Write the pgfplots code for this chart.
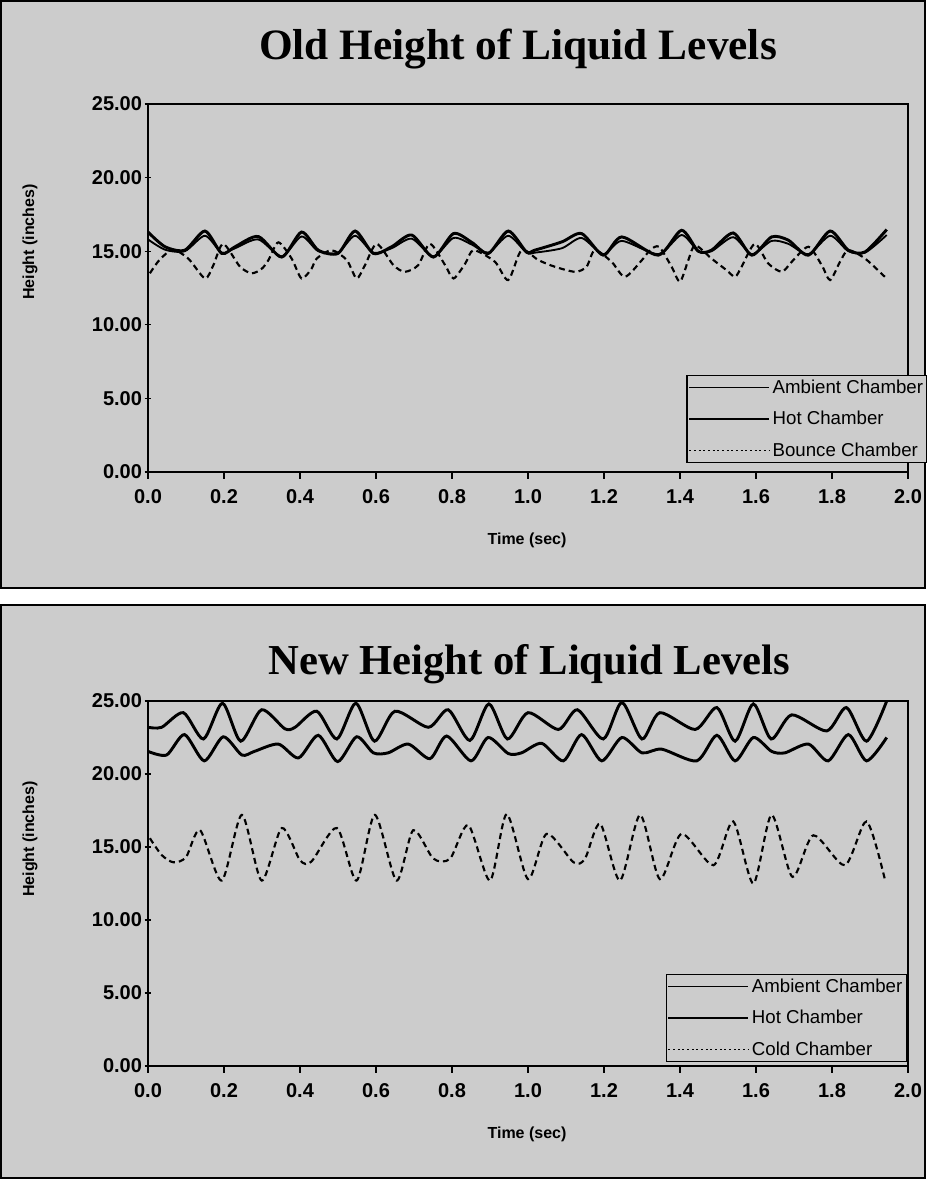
\documentclass[border=0pt]{standalone}
\usepackage{fontspec}
\setmainfont{Liberation Sans}
\newfontfamily\titlefont{Liberation Serif}
\usepackage{pgfplots}
\pgfplotsset{compat=1.18}
\definecolor{bg}{gray}{0.8}

\pgfplotstableread{
t v
0.000 16.3
0.045 15.3
0.097 15.07
0.150 16.37
0.194 14.85
0.229 15.3
0.290 16.0
0.352 14.6
0.404 16.3
0.448 15.07
0.500 14.85
0.545 16.37
0.593 14.85
0.641 15.3
0.694 16.1
0.751 14.6
0.804 16.2
0.852 15.6
0.896 14.85
0.948 16.37
0.996 14.95
1.018 15.07
1.089 15.63
1.141 16.2
1.198 14.73
1.247 15.97
1.343 14.73
1.404 16.42
1.448 15.0
1.483 15.07
1.540 16.24
1.589 14.73
1.641 15.97
1.685 15.75
1.738 14.73
1.795 16.37
1.843 15.07
1.887 14.95
1.944 16.47
}\oldamb

\pgfplotstableread{
t v
0.000 15.8
0.045 15.1
0.097 15.0
0.150 16.05
0.194 14.9
0.229 15.2
0.290 15.8
0.352 14.65
0.404 16.0
0.448 15.0
0.500 14.9
0.545 16.05
0.593 14.9
0.641 15.2
0.694 15.85
0.751 14.65
0.804 15.9
0.852 15.45
0.896 14.9
0.948 16.05
0.996 14.9
1.018 14.9
1.089 15.2
1.141 15.9
1.198 14.8
1.247 15.7
1.343 14.8
1.404 16.1
1.448 15.0
1.483 15.0
1.540 15.95
1.589 14.8
1.641 15.7
1.685 15.5
1.738 14.8
1.795 16.05
1.843 15.0
1.887 14.9
1.944 16.1
}\oldhot

\pgfplotstableread{
t v
0.005 13.5
0.030 14.4
0.065 15.1
0.106 14.5
0.150 13.15
0.172 14.05
0.198 15.5
0.242 13.95
0.273 13.5
0.299 13.8
0.317 14.4
0.343 15.6
0.378 14.5
0.404 13.15
0.430 13.8
0.444 14.5
0.483 15.07
0.523 14.4
0.549 13.15
0.571 14.05
0.602 15.5
0.646 14.05
0.676 13.6
0.711 14.05
0.742 15.5
0.782 14.05
0.804 13.15
0.835 14.17
0.857 15.07
0.913 14.28
0.948 13.04
0.983 15.07
1.027 14.4
1.071 13.94
1.124 13.6
1.154 13.94
1.176 15.07
1.220 14.28
1.255 13.26
1.300 14.4
1.321 15.07
1.345 15.3
1.378 13.94
1.400 12.93
1.422 14.4
1.440 15.4
1.483 14.5
1.523 13.7
1.545 13.26
1.562 13.94
1.597 15.5
1.632 14.17
1.668 13.6
1.694 14.28
1.738 15.3
1.773 14.05
1.795 13.04
1.821 14.28
1.843 15.07
1.887 14.5
1.939 13.26
}\oldbounce

\pgfplotstableread{
t v
0.000 23.2
0.036 23.2
0.093 24.2
0.146 22.4
0.196 24.85
0.244 22.25
0.299 24.4
0.360 23.1
0.387 23.2
0.444 24.3
0.497 22.4
0.547 24.85
0.596 22.25
0.650 24.3
0.738 23.2
0.790 24.4
0.847 22.3
0.897 24.8
0.946 22.4
1.000 24.2
1.080 23.05
1.130 24.4
1.198 22.4
1.247 24.9
1.300 22.4
1.347 24.2
1.440 23.05
1.497 24.55
1.545 22.25
1.593 24.8
1.640 22.4
1.694 24.05
1.786 22.95
1.838 24.55
1.891 22.25
1.944 25.0
}\newamb

\pgfplotstableread{
t v
0.000 21.55
0.049 21.3
0.096 22.7
0.148 20.9
0.198 22.55
0.247 21.3
0.280 21.55
0.343 22.05
0.396 21.1
0.448 22.65
0.499 20.85
0.549 22.55
0.593 21.45
0.632 21.45
0.685 22.05
0.742 21.05
0.786 22.6
0.850 20.9
0.895 22.5
0.948 21.4
0.983 21.45
1.036 22.1
1.093 20.9
1.141 22.7
1.194 20.9
1.247 22.5
1.300 21.45
1.352 21.7
1.444 20.9
1.497 22.65
1.545 20.9
1.593 22.5
1.641 21.55
1.676 21.45
1.738 22.05
1.790 20.9
1.843 22.7
1.891 20.9
1.944 22.5
}\newhot

\pgfplotstableread{
t v
0.005 15.6
0.036 14.45
0.067 13.95
0.100 14.3
0.137 16.15
0.194 12.7
0.247 17.2
0.299 12.7
0.352 16.3
0.400 14.1
0.430 14.0
0.497 16.3
0.549 12.7
0.597 17.2
0.654 12.7
0.698 16.15
0.751 14.2
0.795 14.2
0.843 16.5
0.900 12.7
0.944 17.25
1.000 12.8
1.049 15.9
1.120 13.95
1.150 14.2
1.190 16.6
1.242 12.7
1.295 17.2
1.347 12.8
1.404 15.9
1.488 13.75
1.540 16.75
1.593 12.5
1.641 17.2
1.696 12.95
1.751 15.8
1.834 13.75
1.891 16.75
1.939 12.8
}\newcold

\pgfplotsset{
  chart/.style={
    scale only axis,
    width=570pt,
    xmin=0, xmax=2, ymin=0, ymax=25,
    xtick={0,0.2,0.4,0.6,0.8,1,1.2,1.4,1.6,1.8,2},
    xticklabels={0.0,0.2,0.4,0.6,0.8,1.0,1.2,1.4,1.6,1.8,2.0},
    ytick={0,5,10,15,20,25},
    yticklabels={0.00,5.00,10.00,15.00,20.00,25.00},
    tick pos=left,
    tick align=outside,
    major tick length=5pt,
    ytick style={xshift=2.5pt, line width=1pt, black},
    xtick style={line width=1pt, black},
    axis line style={line width=1.2pt},
    axis background/.style={fill=bg},
    ticklabel style={font=\bfseries\fontsize{15}{15}\selectfont},
    yticklabel style={xshift=4pt},
    xticklabel style={yshift=-4.5pt},
    legend style={fill=bg, draw=black, line width=1pt,
      font=\fontsize{14}{16}\selectfont, anchor=south east,
      inner sep=1pt, row sep=8pt, cells={anchor=west}},
    legend image code/.code={\draw[##1, line width=1.2pt] (0pt,0pt) -- (60pt,0pt);},
    clip=false,
  },
  solidA/.style={black, line width=2.2pt, smooth, tension=0.45, no marks},
  solidB/.style={black, line width=1.4pt, smooth, tension=0.45, no marks},
  dash/.style={black, line width=1.6pt, dash pattern=on 4.5pt off 3pt, smooth, tension=0.45, no marks,
    legend image code/.code={\draw[black, line width=1pt, dash pattern=on 1.5pt off 2pt] (0pt,0pt) -- (60pt,0pt);}},
}

\begin{document}
\begin{tikzpicture}[x=0.75pt,y=0.75pt]
\fill[white] (0,0) rectangle (926,1179);
\path[use as bounding box] (0,0) rectangle (926,1179);
\draw[fill=bg, line width=1.2pt] (1,591) rectangle (925,1178);
\draw[fill=bg, line width=1.2pt] (1,1) rectangle (925,574);

\node[font=\titlefont\bfseries\fontsize{32.5}{32}\selectfont, anchor=base] at (518,1119) {Old Height of Liquid Levels};
\node[font=\titlefont\bfseries\fontsize{32}{32}\selectfont, anchor=base] at (529,504) {New Height of Liquid Levels};
\node[font=\bfseries\fontsize{12}{12}\selectfont, rotate=90] at (30,937) {Height (inches)};
\node[font=\bfseries\fontsize{12}{12}\selectfont, rotate=90] at (30,340) {Height (inches)};
\node[font=\bfseries\fontsize{12}{12}\selectfont] at (527,639) {Time (sec)};
\node[font=\bfseries\fontsize{12}{12}\selectfont] at (527,45) {Time (sec)};

\begin{axis}[chart, height=276pt, at={(111pt,530.25pt)}, anchor=south west,
  legend style={at={(1.026,0.0245)}}]
\addplot[solidA] table[x=t,y=v] {\oldamb};
\addlegendentry{Ambient Chamber}
\addplot[solidB] table[x=t,y=v] {\oldhot};
\addlegendentry{Hot Chamber}
\addplot[dash] table[x=t,y=v] {\oldbounce};
\addlegendentry{Bounce Chamber}
\end{axis}

\begin{axis}[chart, height=273.75pt, at={(111pt,84.75pt)}, anchor=south west,
  legend style={at={(0.9987,0.011)}}]
\addplot[solidA] table[x=t,y=v] {\newamb};
\addlegendentry{Ambient Chamber}
\addplot[solidA] table[x=t,y=v] {\newhot};
\addlegendentry{Hot Chamber}
\addplot[dash] table[x=t,y=v] {\newcold};
\addlegendentry{Cold Chamber}
\end{axis}
\end{tikzpicture}
\end{document}
